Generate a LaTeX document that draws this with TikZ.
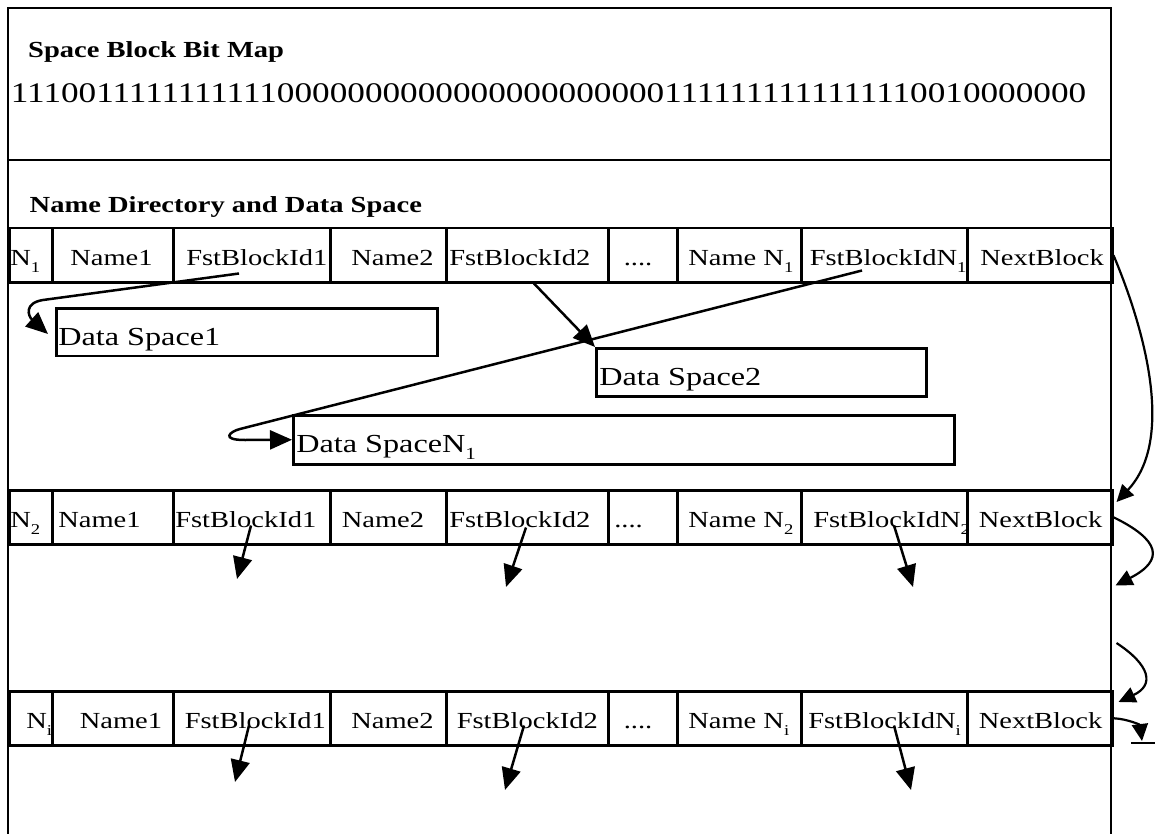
\documentclass[tikz,border=0pt]{standalone}
\usepackage{fontspec}
\setmainfont{Liberation Serif}[FakeStretch=1.24]
\usetikzlibrary{arrows.meta,calc}

% small lowered index, as in N_1
\newcommand\lowidx[2][15]{\raisebox{-7pt}{\fontsize{#1}{#1}\selectfont #2}}
% fixed-width cell content: width, left offset, text
\newcommand\cellbox[3]{\makebox[#1pt][l]{\hspace*{#2pt}#3}}

\begin{document}
\begin{tikzpicture}[x=1pt,y=-1pt,line join=miter,
  frame/.style={line width=2.5pt},
  cell/.style={draw, line width=2.5pt, inner sep=0pt, minimum height=54pt,
    text height=20pt, text depth=0pt, anchor=north west,
    font=\fontsize{23}{23}\selectfont},
  dsbox/.style={draw, line width=2.5pt, inner sep=0pt,
    text height=26pt, text depth=0pt, anchor=north west,
    font=\fontsize{26}{26}\selectfont},
  heading/.style={anchor=base west, inner sep=0pt,
    font=\fontsize{23}{23}\selectfont\bfseries},
  bitstr/.style={anchor=base west, inner sep=0pt,
    font=\fontsize{28.4}{28.4}\selectfont},
  ptr/.style={line width=2.5pt, -{Triangle[length=22pt,width=19pt]}},
  link/.style={line width=2.2pt, -{Triangle[length=17pt,width=16pt]}},
  ground/.style={line width=2.5pt}]

\useasboundingbox (0,0) rectangle (1155,834);
\clip (0,0) rectangle (1155,834);

% outer frame and the separator under the bit map
\draw[frame] (8,850) -- (8,8) -- (1111,8) -- (1111,850);
\draw[frame] (8,160) -- (1111,160);

% bit map section (63 bits, written in groups)
\node[heading] (bmtitle) at (28,58) {Space Block Bit Map};
\node[bitstr] (bits) at (10.7,103)
  {{11100}{11111}{11111}{1}{00000}{00000}{00000}{00000}{00}{11111}{11111}{11111}{001}{00000}{00}};

% name directory section
\node[heading] (ndtitle) at (29.5,213) {Name Directory and Data Space};

% directory block 1
\node[cell, minimum width=43pt]  (r1c1) at (8,227)   {\cellbox{43}{1}{N\lowidx{1}}};
\node[cell, minimum width=121pt] (r1c2) at (51,227)  {\cellbox{121}{18}{Name1}};
\node[cell, minimum width=157pt] (r1c3) at (172,227) {\cellbox{157}{13}{FstBlockId1}};
\node[cell, minimum width=116pt] (r1c4) at (329,227) {\cellbox{116}{21}{Name2}};
\node[cell, minimum width=162pt] (r1c5) at (445,227) {\cellbox{162}{3}{FstBlockId2}};
\node[cell, minimum width=69pt]  (r1c6) at (607,227) {\cellbox{69}{15.5}{....}};
\node[cell, minimum width=124pt] (r1c7) at (676,227) {\cellbox{124}{11}{Name N\lowidx{1}}};
\node[cell, minimum width=166pt] (r1c8) at (800,227) {\cellbox{166}{8.5}{FstBlockIdN\lowidx{1}}};
\node[cell, minimum width=145pt] (r1c9) at (966,227) {\cellbox{145}{13}{NextBlock}};

% data spaces of block 1
\node[dsbox, minimum width=381pt, minimum height=47.5pt] (ds1) at (55,307)
  {\cellbox{381}{2}{Data Space1}};
\node[dsbox, minimum width=330pt, minimum height=48pt] (ds2) at (595,347)
  {\cellbox{330}{3}{Data Space2}};
\node[dsbox, minimum width=661pt, minimum height=49pt] (dsN) at (292,414)
  {\cellbox{661}{3}{Data SpaceN\lowidx[17]{1}}};

% directory block 2
\node[cell, minimum width=43pt]  (r2c1) at (8,489)   {\cellbox{43}{1}{N\lowidx{2}}};
\node[cell, minimum width=121pt] (r2c2) at (51,489)  {\cellbox{121}{6}{Name1}};
\node[cell, minimum width=157pt] (r2c3) at (172,489) {\cellbox{157}{2}{FstBlockId1}};
\node[cell, minimum width=116pt] (r2c4) at (329,489) {\cellbox{116}{11.5}{Name2}};
\node[cell, minimum width=162pt] (r2c5) at (445,489) {\cellbox{162}{3}{FstBlockId2}};
\node[cell, minimum width=69pt]  (r2c6) at (607,489) {\cellbox{69}{6}{....}};
\node[cell, minimum width=124pt] (r2c7) at (676,489) {\cellbox{124}{11}{Name N\lowidx{2}}};
\node[cell, minimum width=166pt] (r2c8) at (800,489) {\cellbox{166}{12}{FstBlockIdN\lowidx{2}}};
\node[cell, minimum width=145pt] (r2c9) at (966,489) {\cellbox{145}{11.5}{NextBlock}};

% directory block i
\node[cell, minimum width=43pt]  (r3c1) at (8,690)   {\cellbox{43}{17}{N\lowidx{i}}};
\node[cell, minimum width=121pt] (r3c2) at (51,690)  {\cellbox{121}{27.5}{Name1}};
\node[cell, minimum width=157pt] (r3c3) at (172,690) {\cellbox{157}{11.5}{FstBlockId1}};
\node[cell, minimum width=116pt] (r3c4) at (329,690) {\cellbox{116}{21}{Name2}};
\node[cell, minimum width=162pt] (r3c5) at (445,690) {\cellbox{162}{10.5}{FstBlockId2}};
\node[cell, minimum width=69pt]  (r3c6) at (607,690) {\cellbox{69}{15.5}{....}};
\node[cell, minimum width=124pt] (r3c7) at (676,690) {\cellbox{124}{11}{Name N\lowidx{i}}};
\node[cell, minimum width=166pt] (r3c8) at (800,690) {\cellbox{166}{7}{FstBlockIdN\lowidx{i}}};
\node[cell, minimum width=145pt] (r3c9) at (966,690) {\cellbox{145}{11.5}{NextBlock}};

% pointer origins inside the FstBlockId cells
\coordinate (p11) at ($(r1c3.south west)+(67,-10)$);
\coordinate (p12) at ($(r1c5.south west)+(89,0)$);
\coordinate (p13) at ($(r1c8.south west)+(62,-13)$);
\coordinate (p21) at ($(r2c3.south west)+(79,-20)$);
\coordinate (p22) at ($(r2c5.south west)+(81,-18)$);
\coordinate (p23) at ($(r2c8.south west)+(94,-20)$);
\coordinate (p31) at ($(r3c3.south west)+(77,-21)$);
\coordinate (p32) at ($(r3c5.south west)+(79,-21)$);
\coordinate (p33) at ($(r3c8.south west)+(94,-21)$);

% open pointer ends of blocks 2 and i
\coordinate (q21) at (237,579);
\coordinate (q22) at (506,587);
\coordinate (q23) at (913,587);
\coordinate (q31) at (235,782);
\coordinate (q32) at (505,790);
\coordinate (q33) at (911,790);

% block 1 pointers into its data spaces
\draw[ptr] (p11) -- (43,300) .. controls (24,303) and (28,316) .. ($(ds1.west)+(-7,2)$);
\draw[ptr] (p12) -- (ds2.north west);
\draw[ptr] (p13) -- (240,429) .. controls (230,431.5) and (220,440) .. (245,440) -- (dsN.west);

% block 2 and block i pointers
\draw[ptr] (p21) -- (q21);
\draw[ptr] (p22) -- (q22);
\draw[ptr] (p23) -- (q23);
\draw[ptr] (p31) -- (q31);
\draw[ptr] (p32) -- (q32);
\draw[ptr] (p33) -- (q33);

% NextBlock chain
\coordinate (lnk2) at ($(r2c9.south east)+(2,40)$);
\coordinate (lnk3) at ($(r3c9.north east)+(3,-47)$);
\coordinate (gtip) at (1142,741);
\coordinate (gndL) at (1131,743);
\coordinate (gndR) at (1160,743);

\draw[link] (r1c9.east) .. controls (1145,330) and (1175,440) .. ($(r2c9.north east)+(3,13)$);
\draw[link] (r2c9.east) .. controls (1160,540) and (1165,560) .. (lnk2);
\draw[link] (lnk3) .. controls (1150,665) and (1155,685) .. ($(r3c9.north east)+(5,12)$);
\draw[link] (r3c9.east) .. controls (1128,719) and (1140,725) .. (gtip);
\draw[ground] (gndL) -- (gndR);

\end{tikzpicture}
\end{document}
